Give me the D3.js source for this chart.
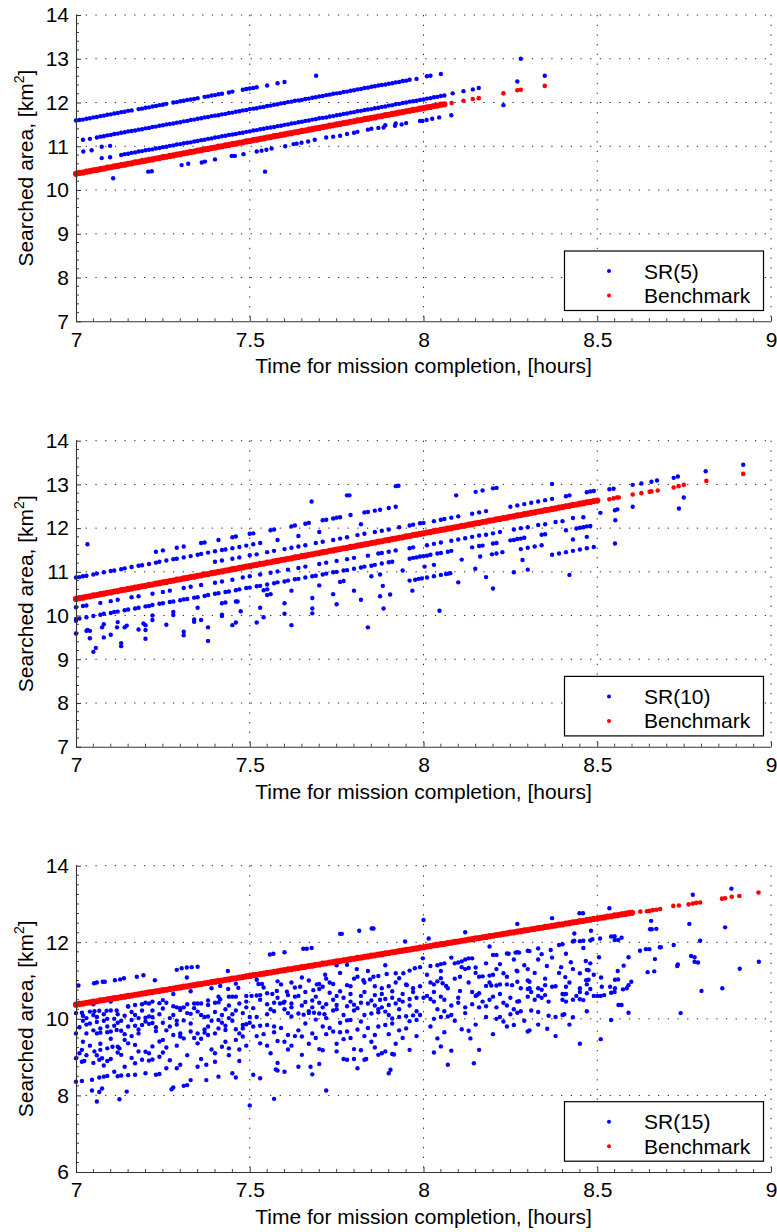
<!DOCTYPE html>
<html><head><meta charset="utf-8">
<script src="https://cdn.jsdelivr.net/npm/d3@7"></script>
<style>body{margin:0;background:#fff}</style>
</head><body>
<script>
// ---------------- DATA ----------------
const xTicks = [7, 7.5, 8, 8.5, 9];
const yTicksA = [7, 8, 9, 10, 11, 12, 13, 14];
const yTicksC = [6, 8, 10, 12, 14];
const legendLabels = ["SR(5)", "SR(10)", "SR(15)"];
const benchLabel = "Benchmark";
const xTitle = "Time for mission completion, [hours]";

// ----- Panel 1 : SR(5) -----
const sr5LineA = [[7.00,11.59],[7.01,11.60],[7.02,11.61],[7.03,11.63],[7.04,11.64],[7.05,11.66],[7.06,11.67],[7.07,11.69],[7.08,11.70],[7.09,11.72],[7.10,11.73],[7.11,11.75],[7.12,11.76],[7.13,11.78],[7.14,11.79],[7.15,11.81],[7.16,11.82],[7.18,11.85],[7.19,11.86],[7.20,11.88],[7.21,11.89],[7.22,11.91],[7.23,11.92],[7.24,11.94],[7.25,11.95],[7.26,11.97],[7.28,12.00],[7.29,12.01],[7.30,12.03],[7.31,12.04],[7.32,12.06],[7.33,12.07],[7.34,12.08],[7.35,12.10],[7.37,12.13],[7.38,12.14],[7.39,12.16],[7.40,12.17],[7.41,12.19],[7.42,12.20],[7.44,12.23],[7.45,12.25],[7.48,12.29],[7.49,12.31],[7.50,12.32],[7.51,12.33],[7.52,12.35],[7.55,12.39],[7.58,12.44],[7.60,12.47]];
const sr5LineB = [[7.02,11.15],[7.04,11.17],[7.06,11.20],[7.07,11.22],[7.08,11.23],[7.09,11.25],[7.10,11.26],[7.11,11.28],[7.12,11.29],[7.13,11.31],[7.14,11.32],[7.15,11.34],[7.16,11.35],[7.17,11.36],[7.18,11.38],[7.19,11.39],[7.20,11.41],[7.21,11.42],[7.22,11.44],[7.23,11.45],[7.24,11.47],[7.25,11.48],[7.26,11.50],[7.27,11.51],[7.28,11.52],[7.29,11.54],[7.30,11.55],[7.31,11.57],[7.32,11.58],[7.33,11.60],[7.34,11.61],[7.35,11.63],[7.36,11.64],[7.37,11.66],[7.38,11.67],[7.39,11.69],[7.40,11.70],[7.41,11.71],[7.42,11.73],[7.43,11.74],[7.44,11.76],[7.45,11.77],[7.46,11.79],[7.47,11.80],[7.48,11.82],[7.49,11.83],[7.50,11.85],[7.51,11.86],[7.52,11.87],[7.53,11.89],[7.54,11.90],[7.55,11.92],[7.56,11.93],[7.57,11.95],[7.58,11.96],[7.59,11.98],[7.60,11.99],[7.61,12.01],[7.62,12.02],[7.63,12.04],[7.64,12.05],[7.65,12.06],[7.66,12.08],[7.67,12.09],[7.68,12.11],[7.69,12.12],[7.70,12.14],[7.71,12.15],[7.72,12.17],[7.73,12.18],[7.74,12.20],[7.75,12.21],[7.76,12.22],[7.77,12.24],[7.78,12.25],[7.79,12.27],[7.80,12.28],[7.81,12.30],[7.82,12.31],[7.83,12.33],[7.84,12.34],[7.85,12.36],[7.86,12.37],[7.87,12.39],[7.88,12.40],[7.89,12.41],[7.90,12.43],[7.91,12.44],[7.92,12.46],[7.93,12.47],[7.94,12.49],[7.95,12.50],[7.96,12.52],[7.98,12.54],[8.01,12.60],[8.02,12.61],[8.05,12.65]];
const sr5LineC = [[7.13,10.80],[7.14,10.82],[7.15,10.83],[7.16,10.85],[7.17,10.86],[7.18,10.88],[7.19,10.89],[7.20,10.91],[7.21,10.92],[7.22,10.93],[7.23,10.95],[7.24,10.96],[7.25,10.98],[7.26,10.99],[7.27,11.01],[7.28,11.02],[7.29,11.04],[7.30,11.05],[7.31,11.07],[7.32,11.08],[7.33,11.09],[7.34,11.11],[7.35,11.12],[7.36,11.14],[7.37,11.15],[7.38,11.17],[7.39,11.18],[7.40,11.20],[7.41,11.21],[7.42,11.23],[7.43,11.24],[7.44,11.26],[7.45,11.27],[7.46,11.28],[7.47,11.30],[7.48,11.31],[7.49,11.33],[7.50,11.34],[7.51,11.36],[7.52,11.37],[7.53,11.39],[7.54,11.40],[7.55,11.42],[7.56,11.43],[7.57,11.44],[7.58,11.46],[7.59,11.47],[7.60,11.49],[7.61,11.50],[7.62,11.52],[7.63,11.53],[7.64,11.55],[7.65,11.56],[7.66,11.58],[7.67,11.59],[7.68,11.61],[7.69,11.62],[7.70,11.64],[7.71,11.65],[7.72,11.66],[7.73,11.68],[7.74,11.69],[7.75,11.71],[7.76,11.72],[7.77,11.74],[7.78,11.75],[7.79,11.77],[7.80,11.78],[7.81,11.80],[7.82,11.81],[7.83,11.83],[7.84,11.84],[7.85,11.85],[7.86,11.87],[7.87,11.88],[7.88,11.90],[7.89,11.91],[7.90,11.93],[7.91,11.94],[7.92,11.96],[7.93,11.97],[7.94,11.99],[7.95,12.00],[7.96,12.02],[7.97,12.03],[7.98,12.04],[7.99,12.06],[8.00,12.07],[8.01,12.09],[8.02,12.10],[8.03,12.12],[8.04,12.13],[8.05,12.15],[8.06,12.16],[8.084,12.21],[8.115,12.26],[8.142,12.30],[8.159,12.33]];
const sr5LineD = [[7.107,10.27],[7.208,10.42],[7.218,10.43],[7.304,10.57],[7.323,10.60],[7.362,10.63],[7.371,10.65],[7.40,10.70],[7.448,10.78],[7.457,10.78],[7.482,10.82],[7.52,10.88],[7.534,10.90],[7.548,10.92],[7.563,10.95],[7.602,11.00],[7.626,11.05],[7.635,11.06],[7.649,11.08],[7.668,11.11],[7.687,11.15],[7.72,11.20],[7.74,11.22],[7.76,11.24],[7.78,11.28],[7.80,11.31],[7.81,11.33],[7.84,11.38],[7.85,11.40],[7.87,11.42],[7.885,11.43],[7.89,11.48],[7.918,11.47],[7.92,11.52],[7.937,11.50],[7.95,11.53],[7.99,11.58],[7.997,11.58],[8.009,11.60],[8.025,11.63],[8.045,11.66],[8.08,11.71]];
const sr5Extra = [[7.021,10.88],[7.045,10.91],[7.074,10.99],[7.098,11.01],[7.074,10.73],[7.098,10.75],[7.544,10.42],[7.691,12.61],[8.23,11.94],[8.27,12.48],[8.28,13.00],[8.349,12.61]];
const bench5Dense = [[7.00,10.37],[7.01,10.39],[7.02,10.40],[7.03,10.42],[7.04,10.43],[7.05,10.45],[7.06,10.46],[7.07,10.48],[7.08,10.49],[7.09,10.51],[7.10,10.52],[7.11,10.54],[7.12,10.55],[7.13,10.57],[7.14,10.58],[7.15,10.60],[7.16,10.61],[7.17,10.63],[7.18,10.64],[7.19,10.66],[7.20,10.67],[7.21,10.69],[7.22,10.70],[7.23,10.72],[7.24,10.73],[7.25,10.75],[7.26,10.76],[7.27,10.78],[7.28,10.79],[7.29,10.81],[7.30,10.82],[7.31,10.84],[7.32,10.85],[7.33,10.87],[7.34,10.88],[7.35,10.90],[7.36,10.91],[7.37,10.93],[7.38,10.94],[7.39,10.96],[7.40,10.97],[7.41,10.99],[7.42,11.00],[7.43,11.02],[7.44,11.03],[7.45,11.05],[7.46,11.06],[7.47,11.08],[7.48,11.09],[7.49,11.11],[7.50,11.12],[7.51,11.14],[7.52,11.15],[7.53,11.17],[7.54,11.18],[7.55,11.20],[7.56,11.21],[7.57,11.23],[7.58,11.24],[7.59,11.26],[7.60,11.27],[7.61,11.29],[7.62,11.30],[7.63,11.32],[7.64,11.33],[7.65,11.35],[7.66,11.36],[7.67,11.38],[7.68,11.39],[7.69,11.41],[7.70,11.42],[7.71,11.44],[7.72,11.45],[7.73,11.47],[7.74,11.48],[7.75,11.50],[7.76,11.51],[7.77,11.53],[7.78,11.54],[7.79,11.56],[7.80,11.57],[7.81,11.59],[7.82,11.60],[7.83,11.62],[7.84,11.63],[7.85,11.65],[7.86,11.66],[7.87,11.68],[7.88,11.69],[7.89,11.71],[7.90,11.72],[7.91,11.74],[7.92,11.75],[7.93,11.77],[7.94,11.78],[7.95,11.80],[7.96,11.81],[7.97,11.83],[7.98,11.84],[7.99,11.86],[8.00,11.87],[8.01,11.89],[8.02,11.90],[8.03,11.92],[8.04,11.93],[8.05,11.95],[8.06,11.96]];
const bench5Tail = [[8.081,11.99],[8.115,12.04],[8.142,12.08],[8.159,12.10],[8.23,12.21],[8.27,12.28],[8.28,12.29],[8.349,12.38]];

// ----- Panel 2 : SR(10) -----
const sr10P1 = [[7.40,11.23],[7.42,11.26],[7.45,11.30],[7.47,11.33],[7.50,11.38],[7.52,11.40],[7.55,11.45],[7.57,11.48],[7.60,11.52],[7.62,11.55],[7.64,11.58],[7.66,11.61],[7.69,11.66],[7.71,11.69],[7.74,11.73],[7.76,11.76],[7.78,11.79],[7.81,11.84],[7.83,11.87],[7.86,11.91],[7.88,11.94],[7.90,11.97],[7.93,12.02],[7.96,12.06],[7.97,12.08],[7.99,12.11],[8.00,12.12],[8.03,12.16],[8.05,12.19],[8.06,12.21],[8.08,12.24],[8.10,12.27],[8.14,12.33],[8.16,12.36],[8.18,12.39],[8.25,12.49],[8.27,12.52],[8.29,12.55],[8.31,12.58],[8.33,12.61],[8.35,12.64],[8.37,12.67],[8.41,12.73],[8.42,12.75],[8.47,12.82],[8.48,12.84],[8.49,12.85],[8.535,12.89],[8.547,12.90],[8.602,12.99],[8.627,13.02],[8.656,13.06],[8.672,13.09],[8.72,13.15],[8.732,13.18],[8.812,13.30],[8.92,13.45]];
const sr10P2 = [[7.00,10.87],[7.01,10.88],[7.02,10.90],[7.03,10.91],[7.05,10.94],[7.06,10.96],[7.08,10.99],[7.10,11.02],[7.11,11.03],[7.13,11.06],[7.14,11.08],[7.16,11.11],[7.18,11.14],[7.19,11.15],[7.21,11.18],[7.23,11.21],[7.24,11.23],[7.26,11.26],[7.28,11.29],[7.29,11.30],[7.31,11.33],[7.33,11.36],[7.35,11.39],[7.36,11.41],[7.38,11.44],[7.40,11.47],[7.42,11.50],[7.43,11.51],[7.45,11.54],[7.47,11.57],[7.49,11.60],[7.51,11.63],[7.53,11.66],[7.58,11.73],[7.64,11.82],[7.70,11.91],[7.82,12.09]];
const sr10P3 = [[7.23,11.46],[7.25,11.49],[7.29,11.55],[7.31,11.58],[7.36,11.66],[7.37,11.67],[7.41,11.73],[7.45,11.79],[7.46,11.81],[7.50,11.87],[7.51,11.88],[7.56,11.95],[7.57,11.97],[7.62,12.04],[7.63,12.06],[7.66,12.10],[7.67,12.12],[7.71,12.18],[7.72,12.19],[7.74,12.22],[7.75,12.24],[7.76,12.25],[7.79,12.30],[7.83,12.36],[7.84,12.37],[7.86,12.40],[7.875,12.42],[7.90,12.46],[7.92,12.49],[8.094,12.75],[8.15,12.83],[8.17,12.86],[8.20,12.91],[8.21,12.92]];
const sr10Top = [[7.033,11.63],[7.678,12.61],[7.78,12.75],[7.787,12.75],[7.92,12.96],[7.928,12.97],[8.37,13.01]];
const sr10La = [[7.00,10.19],[7.02,10.22],[7.03,10.23],[7.07,10.29],[7.10,10.33],[7.12,10.36],[7.16,10.42],[7.18,10.44],[7.22,10.50],[7.25,10.54],[7.27,10.57],[7.31,10.63],[7.33,10.66],[7.36,10.70],[7.40,10.75],[7.42,10.78],[7.45,10.82],[7.48,10.87],[7.50,10.90],[7.53,10.94],[7.56,10.98],[7.58,11.01],[7.61,11.05],[7.64,11.09],[7.66,11.12],[7.70,11.18],[7.72,11.21],[7.75,11.25],[7.78,11.29],[7.80,11.32],[7.84,11.37],[7.87,11.42],[7.88,11.43],[7.90,11.46],[7.92,11.49],[7.96,11.54],[7.97,11.56],[8.01,11.61],[8.03,11.64],[8.05,11.67],[8.08,11.71],[8.10,11.74],[8.12,11.77],[8.14,11.80],[8.16,11.83],[8.18,11.85],[8.20,11.88],[8.22,11.91],[8.26,11.97],[8.28,12.00],[8.30,12.02],[8.33,12.07],[8.35,12.09],[8.38,12.14],[8.40,12.16],[8.43,12.23],[8.46,12.25],[8.509,12.35],[8.551,12.41],[8.558,12.43],[8.602,12.49],[8.749,12.70]];
const sr10Lb = [[7.00,9.92],[7.01,9.93],[7.03,9.96],[7.05,9.99],[7.07,10.02],[7.08,10.04],[7.10,10.06],[7.11,10.08],[7.12,10.09],[7.14,10.12],[7.15,10.14],[7.17,10.16],[7.18,10.18],[7.20,10.21],[7.21,10.22],[7.22,10.24],[7.24,10.27],[7.25,10.28],[7.27,10.31],[7.28,10.32],[7.30,10.35],[7.31,10.37],[7.32,10.38],[7.34,10.41],[7.35,10.42],[7.37,10.45],[7.38,10.47],[7.40,10.50],[7.41,10.51],[7.43,10.54],[7.44,10.55],[7.46,10.58],[7.47,10.60],[7.49,10.63],[7.50,10.64],[7.52,10.67],[7.53,10.68],[7.55,10.71],[7.57,10.74],[7.58,10.76],[7.60,10.78],[7.61,10.80],[7.63,10.83],[7.64,10.84],[7.66,10.87],[7.68,10.90],[7.69,10.91],[7.71,10.94],[7.72,10.96],[7.74,10.99],[7.75,11.00],[7.77,11.03],[7.78,11.04],[7.80,11.07],[7.82,11.10],[7.83,11.12],[7.85,11.14],[7.86,11.16],[7.88,11.19],[7.90,11.22],[7.91,11.23],[7.96,11.30],[7.97,11.32],[7.98,11.33],[7.99,11.35],[8.00,11.36],[8.01,11.37],[8.02,11.39],[8.04,11.42],[8.05,11.43],[8.07,11.46],[8.08,11.48],[8.14,11.56],[8.16,11.59],[8.17,11.60],[8.20,11.65],[8.21,11.66],[8.25,11.72],[8.26,11.73],[8.27,11.75],[8.28,11.76],[8.29,11.78],[8.34,11.85],[8.35,11.86],[8.41,11.95],[8.44,11.99],[8.45,12.01],[8.46,12.02],[8.47,12.04],[8.48,12.05],[8.552,12.18],[8.735,12.45]];
const sr10Lc = [[7.08,9.80],[7.12,9.85],[7.22,10.00],[7.28,10.08],[7.35,10.18],[7.42,10.28],[7.43,10.30],[7.55,10.47],[7.56,10.49],[7.62,10.57],[7.70,10.69],[7.76,10.77],[7.77,10.79],[7.85,10.90],[7.875,10.94],[7.94,11.03],[8.003,11.12],[8.03,11.16],[8.11,11.28],[8.163,11.35],[8.197,11.40],[8.21,11.42],[8.227,11.45],[8.28,11.52],[8.30,11.55],[8.32,11.58],[8.34,11.61],[8.43,11.74],[8.47,11.80]];
const sr10Ld = [[7.04,9.48],[7.10,9.56],[7.18,9.68],[7.26,9.79],[7.34,9.91],[7.42,10.02],[7.474,10.10],[7.53,10.18],[7.60,10.28],[7.68,10.40],[7.74,10.49],[7.80,10.57],[7.883,10.68],[7.96,10.80],[7.976,10.82],[7.986,10.84],[7.995,10.85],[8.01,10.87],[8.03,10.90],[8.05,10.93],[8.065,10.95],[8.072,10.96],[8.077,10.97],[8.149,11.07],[8.285,11.27],[8.37,11.39],[8.39,11.42],[8.41,11.45],[8.43,11.48],[8.45,11.51],[8.47,11.54],[8.49,11.57],[8.551,11.65]];
const sr10Le = [[7.057,9.26],[7.13,9.37],[7.20,9.47],[7.31,9.63],[7.38,9.73],[7.46,9.84],[7.54,9.96],[7.60,10.04],[7.68,10.16],[7.75,10.26],[7.82,10.36],[7.875,10.44],[7.904,10.48],[7.968,10.57],[8.10,10.76],[8.18,10.88],[8.26,10.99],[8.30,11.05]];
const sr10Low = [[7.62,9.78],[7.885,10.16],[8.20,10.62],[8.42,10.93],[8.046,10.11],[7.00,9.59],[7.00,9.88],[7.03,9.65],[7.04,9.65],[7.05,9.17],[7.075,9.73],[7.08,9.50],[7.118,9.73],[7.14,9.73],[7.13,9.30],[7.20,9.78],[7.20,9.67],[7.22,9.90],[7.31,9.55],[7.36,9.90],[7.38,9.42],[7.45,9.78],[7.52,9.84],[7.84,9.73],[7.033,9.67],[7.146,9.77],[7.194,9.82],[7.28,10.01],[7.34,9.86],[7.42,9.99],[7.46,10.32],[7.465,10.32],[7.54,10.58],[7.55,10.60],[7.68,10.05]];
const bench10Dense = [[7.00,10.38],[7.01,10.40],[7.02,10.41],[7.03,10.43],[7.04,10.44],[7.05,10.46],[7.06,10.47],[7.07,10.49],[7.08,10.50],[7.09,10.52],[7.10,10.53],[7.11,10.55],[7.12,10.56],[7.13,10.58],[7.14,10.59],[7.15,10.61],[7.16,10.62],[7.17,10.64],[7.18,10.65],[7.19,10.67],[7.20,10.68],[7.21,10.70],[7.22,10.71],[7.23,10.73],[7.24,10.74],[7.25,10.76],[7.26,10.77],[7.27,10.79],[7.28,10.80],[7.29,10.82],[7.30,10.83],[7.31,10.85],[7.32,10.86],[7.33,10.88],[7.34,10.89],[7.35,10.91],[7.36,10.92],[7.37,10.94],[7.38,10.95],[7.39,10.97],[7.40,10.98],[7.41,11.00],[7.42,11.01],[7.43,11.03],[7.44,11.04],[7.45,11.06],[7.46,11.07],[7.47,11.09],[7.48,11.10],[7.49,11.12],[7.50,11.13],[7.51,11.15],[7.52,11.16],[7.53,11.18],[7.54,11.19],[7.55,11.21],[7.56,11.22],[7.57,11.24],[7.58,11.25],[7.59,11.27],[7.60,11.28],[7.61,11.30],[7.62,11.31],[7.63,11.33],[7.64,11.34],[7.65,11.36],[7.66,11.37],[7.67,11.39],[7.68,11.40],[7.69,11.42],[7.70,11.43],[7.71,11.45],[7.72,11.46],[7.73,11.48],[7.74,11.49],[7.75,11.51],[7.76,11.52],[7.77,11.54],[7.78,11.55],[7.79,11.57],[7.80,11.58],[7.81,11.60],[7.82,11.61],[7.83,11.63],[7.84,11.64],[7.85,11.66],[7.86,11.67],[7.87,11.69],[7.88,11.70],[7.89,11.72],[7.90,11.73],[7.91,11.75],[7.92,11.76],[7.93,11.78],[7.94,11.79],[7.95,11.81],[7.96,11.82],[7.97,11.84],[7.98,11.85],[7.99,11.87],[8.00,11.88],[8.01,11.90],[8.02,11.91],[8.03,11.93],[8.04,11.94],[8.05,11.96],[8.06,11.97],[8.07,11.99],[8.08,12.00],[8.09,12.02],[8.10,12.03],[8.11,12.05],[8.12,12.06],[8.13,12.08],[8.14,12.09],[8.15,12.11],[8.16,12.12],[8.17,12.14],[8.18,12.15],[8.19,12.17],[8.20,12.18],[8.21,12.20],[8.22,12.21],[8.23,12.23],[8.24,12.24],[8.25,12.26],[8.26,12.27],[8.27,12.29],[8.28,12.30],[8.29,12.32],[8.30,12.33],[8.31,12.35],[8.32,12.36],[8.33,12.38],[8.34,12.39],[8.35,12.41],[8.36,12.42],[8.37,12.44],[8.38,12.45],[8.39,12.47],[8.40,12.48],[8.41,12.50],[8.42,12.51],[8.43,12.53],[8.44,12.54],[8.45,12.56],[8.46,12.57],[8.47,12.59],[8.48,12.60],[8.49,12.62],[8.50,12.63]];
const bench10Tail = [[8.535,12.66],[8.547,12.68],[8.557,12.70],[8.562,12.70],[8.602,12.77],[8.627,12.80],[8.651,12.83],[8.656,12.84],[8.674,12.86],[8.72,12.93],[8.734,12.96],[8.749,12.99],[8.814,13.08],[8.92,13.24]];

// ----- Panel 3 : SR(15) -----
const sr15A = [[7.007,10.87],[7.052,10.93],[7.06,10.95],[7.077,10.97],[7.083,10.97],[7.112,11.01],[7.127,11.03],[7.138,11.06],[7.175,11.10],[7.194,11.14],[7.227,11.01],[7.29,11.28],[7.304,11.32],[7.319,11.34],[7.333,11.35],[7.35,11.36],[7.319,11.08],[7.437,11.25],[7.415,10.86],[7.438,10.78],[7.467,10.81],[7.00,10.15],[7.017,10.16],[7.04,10.19],[7.053,10.20],[7.067,10.21],[7.088,10.21],[7.10,10.22],[7.117,10.22],[7.15,10.33],[7.17,10.36],[7.19,10.38],[7.21,10.40],[7.24,10.41],[7.26,10.42],[7.15,10.32],[7.20,10.42],[7.22,10.45],[7.25,10.49],[7.29,10.30],[7.30,10.28],[7.34,10.40],[7.35,10.40],[7.36,10.40],[7.38,10.36],[7.40,10.42],[7.41,10.43],[7.415,10.51],[7.44,10.58],[7.45,10.58],[7.46,10.58],[7.47,10.40],[7.49,10.60],[7.05,10.38],[7.10,10.45],[7.28,10.65],[7.33,10.72],[7.39,10.80],[7.46,10.92],[7.16,9.97],[7.18,10.02],[7.20,10.03],[7.21,10.06],[7.22,10.04],[7.28,10.10],[7.30,10.23],[7.32,10.15],[7.33,10.13],[7.35,10.19],[7.38,10.06],[7.41,9.97],[7.44,10.02],[7.48,9.84],[7.49,9.86],[7.50,9.90],[7.00,9.62],[7.03,9.62],[7.06,9.62],[7.07,9.64],[7.09,9.65],[7.10,9.67],[7.117,9.71],[7.13,9.69],[7.07,9.75],[7.09,9.80],[7.15,9.80],[7.17,9.82],[7.19,9.84],[7.21,9.87],[7.22,9.89],[7.25,9.90],[7.28,9.58],[7.30,9.62],[7.33,9.67],[7.35,9.62],[7.37,9.64],[7.38,9.80],[7.41,9.75],[7.43,9.71],[7.46,9.73],[7.48,9.75],[7.017,9.19],[7.053,9.15],[7.07,9.19],[7.09,9.23],[7.105,9.27],[7.12,9.27],[7.125,9.23],[7.15,9.36],[7.17,9.32],[7.20,9.14],[7.21,9.10],[7.24,9.41],[7.25,9.45],[7.30,9.54],[7.31,9.49],[7.35,9.36],[7.38,9.58],[7.40,9.62],[7.42,9.27],[7.44,9.23],[7.46,9.45],[7.48,9.54],[7.00,8.97],[7.017,8.88],[7.024,8.90],[7.067,8.93],[7.075,8.97],[7.09,8.90],[7.13,9.06],[7.17,8.84],[7.19,8.93],[7.21,8.91],[7.22,8.94],[7.24,9.01],[7.26,8.71],[7.29,8.71],[7.30,8.80],[7.35,8.75],[7.375,8.80],[7.40,8.88],[7.45,8.58],[7.46,8.47],[7.00,8.36],[7.017,8.38],[7.046,8.41],[7.067,8.47],[7.08,8.49],[7.09,8.51],[7.12,8.50],[7.13,8.52],[7.15,8.53],[7.17,8.54],[7.20,8.58],[7.23,8.54],[7.24,8.56],[7.046,8.13],[7.067,8.09],[7.075,8.18],[7.06,7.84],[7.125,7.90],[7.146,8.10],[7.275,8.16],[7.28,8.21],[7.31,8.25],[7.32,8.27],[7.33,8.40],[7.375,8.40],[7.41,8.49],[7.01,9.78],[7.02,9.95],[7.03,10.02],[7.04,9.88],[7.05,9.70],[7.06,10.05],[7.08,9.95],[7.11,10.00],[7.12,9.90],[7.14,10.08],[7.02,9.40],[7.04,9.30],[7.06,9.05],[7.08,8.78],[7.10,9.48],[7.01,9.10],[7.11,8.62],[7.14,8.75],[7.16,9.55],[7.18,9.62],[7.23,9.68],[7.26,9.25],[7.27,9.80],[7.29,9.95],[7.31,10.30],[7.36,9.48],[7.37,10.05],[7.39,9.20],[7.42,9.90],[7.43,10.25],[7.45,10.12],[7.47,9.20],[7.49,10.30],[7.44,9.05]];
const sr15A2 = [[7.02,10.08],[7.03,9.85],[7.05,10.10],[7.06,9.92],[7.08,10.12],[7.09,10.00],[7.11,9.82],[7.12,10.12],[7.13,9.95],[7.14,9.60],[7.16,10.18],[7.17,10.10],[7.18,9.72],[7.19,10.22],[7.20,9.93],[7.22,10.22],[7.23,9.78],[7.24,10.12],[7.25,10.27],[7.26,9.70],[7.27,10.02],[7.28,10.33],[7.29,9.85],[7.31,9.96],[7.32,10.38],[7.33,9.88],[7.34,10.28],[7.36,10.10],[7.37,9.72],[7.38,10.48],[7.39,9.95],[7.40,10.18],[7.41,10.58],[7.42,10.10],[7.43,9.82],[7.44,10.35],[7.45,9.95],[7.46,10.22],[7.47,9.62],[7.48,10.15],[7.49,10.45],[7.50,10.05],[7.03,9.05],[7.05,8.85],[7.07,9.35],[7.10,8.95],[7.12,9.12],[7.14,9.45],[7.16,8.98],[7.18,9.15],[7.22,9.28],[7.25,9.12],[7.27,8.92],[7.29,9.30],[7.32,9.05],[7.34,9.50],[7.36,8.95],[7.40,9.10],[7.43,9.40],[7.47,8.90],[7.49,9.30]];
const sr15B = [[7.558,11.68],[7.568,11.70],[7.60,11.74],[7.654,11.83],[7.664,11.83],[7.678,11.85],[7.76,12.22],[7.765,12.22],[7.815,12.30],[7.851,12.36],[7.856,12.36],[7.808,11.30],[7.78,11.41],[7.75,11.40],[7.65,11.08],[7.717,11.15],[7.693,10.90],[7.70,10.91],[7.683,10.75],[7.645,10.84],[7.607,10.71],[7.578,10.73],[7.525,10.91],[7.535,10.91],[7.856,11.10],[7.87,11.12],[7.894,11.17],[7.92,11.19],[7.827,11.01],[7.846,11.03],[7.80,11.05],[7.81,11.10],[7.78,10.88],[7.74,10.91],[7.71,10.84],[7.947,12.02],[7.942,11.19],[7.96,11.26],[7.975,11.32],[7.99,11.35],[7.93,11.06],[7.952,10.88],[7.97,10.80],[7.90,10.85],[7.88,10.80],[7.505,10.60],[7.52,10.61],[7.53,10.62],[7.55,10.67],[7.565,10.65],[7.587,10.40],[7.597,10.42],[7.63,10.58],[7.64,10.60],[7.55,10.38],[7.57,10.42],[7.60,10.45],[7.62,10.40],[7.66,10.44],[7.68,10.48],[7.70,10.42],[7.72,10.38],[7.75,10.36],[7.78,10.33],[7.80,10.37],[7.82,10.42],[7.84,10.40],[7.86,10.35],[7.88,10.30],[7.90,10.36],[7.92,10.40],[7.94,10.45],[7.96,10.52],[7.98,10.55],[7.875,10.50],[7.89,10.52],[7.91,10.55],[7.93,10.50],[7.75,10.60],[7.77,10.55],[7.73,10.68],[7.64,10.14],[7.655,10.11],[7.67,10.15],[7.685,10.16],[7.70,10.14],[7.715,10.12],[7.78,9.96],[7.79,9.97],[7.83,10.10],[7.85,10.14],[7.87,10.17],[7.89,10.19],[7.91,10.01],[7.93,10.05],[7.95,10.07],[7.97,10.09],[7.99,10.10],[7.52,10.05],[7.55,10.12],[7.57,10.20],[7.60,10.25],[7.62,10.06],[7.75,10.25],[7.80,10.22],[7.51,9.80],[7.53,9.82],[7.55,9.84],[7.57,9.80],[7.59,9.76],[7.61,9.58],[7.63,9.55],[7.65,9.54],[7.68,9.62],[7.71,9.80],[7.73,9.76],[7.74,9.67],[7.76,9.65],[7.78,9.67],[7.81,9.72],[7.84,9.76],[7.87,9.80],[7.89,9.84],[7.91,9.88],[7.96,9.94],[7.98,9.97],[7.53,9.36],[7.58,9.42],[7.60,9.40],[7.65,9.06],[7.70,9.21],[7.71,9.18],[7.77,9.47],[7.80,9.21],[7.82,9.18],[7.87,9.06],[7.88,9.10],[7.89,9.15],[7.91,9.08],[7.915,9.07],[7.96,9.19],[7.51,8.54],[7.53,8.45],[7.575,8.68],[7.58,8.65],[7.60,8.62],[7.64,8.75],[7.675,8.75],[7.70,8.82],[7.77,8.95],[7.78,8.93],[7.80,8.95],[7.81,8.71],[7.83,8.93],[7.835,8.95],[7.90,8.58],[7.905,8.67],[7.50,7.74],[7.57,7.91],[7.72,8.13],[7.52,11.02],[7.58,10.98],[7.62,10.95],[7.67,11.00],[7.72,11.05],[7.76,11.20],[7.84,11.25],[7.89,11.40],[7.62,10.30],[7.68,10.30],[7.74,10.50],[7.79,10.65],[7.83,10.70],[7.86,10.62],[7.66,9.88],[7.69,9.98],[7.72,10.02],[7.76,9.90],[7.82,9.93],[7.86,9.58],[7.93,9.70],[7.54,9.60],[7.56,9.10],[7.62,9.30],[7.75,9.35],[7.85,9.40],[7.94,9.50],[7.58,8.85],[7.68,8.55]];
const sr15B2 = [[7.51,10.28],[7.53,10.50],[7.54,10.82],[7.56,10.25],[7.58,10.55],[7.59,10.90],[7.61,10.15],[7.61,10.62],[7.63,10.82],[7.65,10.35],[7.66,10.70],[7.67,10.20],[7.69,10.58],[7.70,10.78],[7.71,10.30],[7.73,10.95],[7.74,10.22],[7.76,10.72],[7.77,10.10],[7.79,10.45],[7.79,10.85],[7.81,10.28],[7.82,10.60],[7.83,10.95],[7.85,10.48],[7.86,10.85],[7.87,10.25],[7.88,10.65],[7.90,10.10],[7.91,10.72],[7.92,10.95],[7.93,10.25],[7.94,10.65],[7.95,10.90],[7.96,10.35],[7.97,10.70],[7.98,10.20],[7.99,10.85],[7.52,9.55],[7.55,9.30],[7.57,9.65],[7.61,9.20],[7.64,9.70],[7.67,9.35],[7.69,9.50],[7.72,9.60],[7.75,9.15],[7.79,9.50],[7.83,9.55],[7.86,9.25],[7.90,9.60],[7.92,9.35],[7.95,9.75],[7.98,9.55]];
const sr15C = [[8.00,12.58],[8.015,12.10],[8.12,12.26],[8.27,12.48],[8.37,12.63],[8.449,12.76],[8.459,12.76],[8.19,11.89],[8.20,11.67],[8.21,11.67],[8.24,11.71],[8.245,11.70],[8.265,11.73],[8.27,11.74],[8.275,11.73],[8.30,11.78],[8.305,11.77],[8.33,11.84],[8.34,11.69],[8.366,11.80],[8.39,11.93],[8.40,11.95],[8.43,12.02],[8.45,12.03],[8.46,12.04],[8.48,12.05],[8.486,12.08],[8.434,12.23],[8.482,12.30],[8.434,12.04],[8.09,11.45],[8.10,11.47],[8.11,11.50],[8.12,11.55],[8.13,11.58],[8.14,11.58],[7.998,11.58],[8.02,11.38],[8.04,11.40],[8.05,11.43],[8.06,11.45],[8.15,11.34],[8.13,11.33],[8.12,11.30],[8.22,11.43],[8.355,11.38],[8.396,11.35],[8.424,11.48],[8.467,11.51],[8.47,11.28],[8.475,11.27],[8.45,11.19],[8.23,11.19],[8.27,11.24],[8.268,11.26],[8.30,11.30],[8.105,11.10],[8.16,11.10],[8.17,11.11],[8.19,11.13],[8.20,11.15],[8.408,11.09],[8.468,11.01],[8.475,11.02],[8.02,10.95],[8.03,10.90],[8.04,10.98],[8.05,11.06],[8.055,10.93],[8.065,10.86],[8.18,10.86],[8.195,10.87],[8.21,10.87],[8.22,10.90],[8.24,10.90],[8.255,10.88],[8.27,10.97],[8.30,11.00],[8.305,10.97],[8.30,10.78],[8.305,10.80],[8.33,10.80],[8.34,10.76],[8.35,10.88],[8.37,10.84],[8.41,10.84],[8.40,10.65],[8.405,10.64],[8.41,10.65],[8.45,10.80],[8.48,10.78],[8.45,10.70],[8.47,10.67],[8.49,10.60],[8.50,10.60],[8.06,10.50],[8.05,10.58],[8.105,10.73],[8.15,10.60],[8.155,10.63],[8.16,10.67],[8.19,10.50],[8.20,10.58],[8.27,10.45],[8.275,10.46],[8.30,10.58],[8.32,10.50],[8.33,10.60],[8.34,10.55],[8.35,10.62],[8.40,10.50],[8.41,10.45],[8.43,10.50],[8.45,10.51],[8.46,10.49],[8.00,10.55],[8.01,10.60],[8.02,10.52],[8.03,10.45],[8.08,10.35],[8.10,10.42],[8.12,10.30],[8.14,10.38],[8.16,10.30],[8.18,10.33],[8.21,10.30],[8.24,10.35],[8.26,10.25],[8.23,10.42],[8.04,10.25],[8.06,10.20],[8.08,10.10],[8.04,9.49],[8.11,9.73],[8.13,9.69],[8.135,9.49],[8.21,10.00],[8.22,10.05],[8.23,9.93],[8.25,10.12],[8.26,9.84],[8.27,10.16],[8.28,10.20],[8.30,9.67],[8.305,9.70],[8.31,10.22],[8.33,10.18],[8.356,9.74],[8.36,10.08],[8.38,10.05],[8.40,10.10],[8.405,10.12],[8.43,10.04],[8.03,10.00],[8.05,10.05],[8.07,10.06],[8.03,9.12],[8.05,9.28],[8.08,9.17],[8.16,9.19],[8.45,9.35],[8.07,8.80],[8.145,8.84]];
const sr15C2 = [[8.01,11.15],[8.03,10.70],[8.05,11.25],[8.07,10.80],[8.08,11.60],[8.09,11.05],[8.10,10.55],[8.11,11.35],[8.13,10.95],[8.14,10.70],[8.15,11.20],[8.17,10.45],[8.18,11.45],[8.19,10.95],[8.21,11.30],[8.22,10.65],[8.24,11.10],[8.25,10.55],[8.26,11.55],[8.28,10.80],[8.29,11.40],[8.31,10.70],[8.32,11.20],[8.33,11.55],[8.35,11.05],[8.36,10.45],[8.37,11.60],[8.38,10.85],[8.39,11.20],[8.41,11.70],[8.42,10.95],[8.43,11.30],[8.44,10.60],[8.46,11.85],[8.47,10.90],[8.48,11.45],[8.49,11.15],[8.02,9.80],[8.06,9.65],[8.09,9.95],[8.12,10.15],[8.15,9.85],[8.18,10.05],[8.20,9.60],[8.24,9.80],[8.29,9.95],[8.33,9.85],[8.38,9.55],[8.42,9.85],[8.47,10.20]];
const sr15D = [[8.51,9.47],[8.54,9.97],[8.57,10.36],[8.59,10.16],[8.74,10.15],[8.535,12.89],[8.775,13.24],[8.886,13.40],[8.868,12.39],[8.765,12.48],[8.652,12.34],[8.657,12.34],[8.67,12.35],[8.655,12.56],[8.796,12.04],[8.54,12.15],[8.55,12.16],[8.57,12.12],[8.55,12.06],[8.56,12.06],[8.508,12.10],[8.68,11.87],[8.683,11.87],[8.72,11.93],[8.623,11.78],[8.64,11.82],[8.65,11.82],[8.666,11.56],[8.645,11.22],[8.664,11.24],[8.77,11.64],[8.78,11.61],[8.78,11.49],[8.79,11.47],[8.73,11.38],[8.732,11.42],[8.80,10.73],[8.86,10.80],[8.91,11.31],[8.965,11.49],[8.59,11.61],[8.576,11.39],[8.559,11.25],[8.561,10.36],[8.598,10.97],[8.59,10.88],[8.585,10.80],[8.574,10.77],[8.551,10.80],[8.537,10.84],[8.513,10.84],[8.505,11.61],[8.511,11.08],[8.551,11.02],[8.56,11.03],[8.54,10.68],[8.55,10.70],[8.51,10.60],[8.52,10.62]];
const bench15Dense = [[7.00,10.37],[7.01,10.39],[7.02,10.40],[7.03,10.42],[7.04,10.43],[7.05,10.45],[7.06,10.46],[7.07,10.48],[7.08,10.49],[7.09,10.51],[7.10,10.52],[7.11,10.54],[7.12,10.55],[7.13,10.57],[7.14,10.58],[7.15,10.60],[7.16,10.61],[7.17,10.63],[7.18,10.64],[7.19,10.66],[7.20,10.67],[7.21,10.69],[7.22,10.70],[7.23,10.72],[7.24,10.73],[7.25,10.75],[7.26,10.76],[7.27,10.78],[7.28,10.79],[7.29,10.81],[7.30,10.82],[7.31,10.84],[7.32,10.85],[7.33,10.87],[7.34,10.88],[7.35,10.90],[7.36,10.91],[7.37,10.93],[7.38,10.94],[7.39,10.96],[7.40,10.97],[7.41,10.99],[7.42,11.00],[7.43,11.02],[7.44,11.03],[7.45,11.05],[7.46,11.06],[7.47,11.08],[7.48,11.09],[7.49,11.11],[7.50,11.12],[7.51,11.14],[7.52,11.15],[7.53,11.17],[7.54,11.18],[7.55,11.20],[7.56,11.21],[7.57,11.23],[7.58,11.24],[7.59,11.26],[7.60,11.27],[7.61,11.29],[7.62,11.30],[7.63,11.32],[7.64,11.33],[7.65,11.35],[7.66,11.36],[7.67,11.38],[7.68,11.39],[7.69,11.41],[7.70,11.42],[7.71,11.44],[7.72,11.45],[7.73,11.47],[7.74,11.48],[7.75,11.50],[7.76,11.51],[7.77,11.53],[7.78,11.54],[7.79,11.56],[7.80,11.57],[7.81,11.59],[7.82,11.60],[7.83,11.62],[7.84,11.63],[7.85,11.65],[7.86,11.66],[7.87,11.68],[7.88,11.69],[7.89,11.71],[7.90,11.72],[7.91,11.74],[7.92,11.75],[7.93,11.77],[7.94,11.78],[7.95,11.80],[7.96,11.81],[7.97,11.83],[7.98,11.84],[7.99,11.86],[8.00,11.87],[8.01,11.89],[8.02,11.90],[8.03,11.92],[8.04,11.93],[8.05,11.95],[8.06,11.96],[8.07,11.98],[8.08,11.99],[8.09,12.01],[8.10,12.02],[8.11,12.04],[8.12,12.05],[8.13,12.07],[8.14,12.08],[8.15,12.10],[8.16,12.11],[8.17,12.13],[8.18,12.14],[8.19,12.16],[8.20,12.17],[8.21,12.19],[8.22,12.20],[8.23,12.22],[8.24,12.23],[8.25,12.25],[8.26,12.26],[8.27,12.28],[8.28,12.29],[8.29,12.31],[8.30,12.32],[8.31,12.34],[8.32,12.35],[8.33,12.37],[8.34,12.38],[8.35,12.40],[8.36,12.41],[8.37,12.43],[8.38,12.44],[8.39,12.46],[8.40,12.47],[8.41,12.49],[8.42,12.50],[8.43,12.52],[8.44,12.53],[8.45,12.55],[8.46,12.56],[8.47,12.58],[8.48,12.59],[8.49,12.61],[8.50,12.62],[8.51,12.64],[8.52,12.65],[8.53,12.67],[8.54,12.68],[8.55,12.70],[8.56,12.71],[8.57,12.73],[8.58,12.74],[8.59,12.76],[8.60,12.77]];
const bench15Tail = [[8.624,12.80],[8.643,12.81],[8.65,12.82],[8.66,12.84],[8.67,12.85],[8.681,12.87],[8.719,12.95],[8.735,12.96],[8.763,12.99],[8.775,13.01],[8.785,13.03],[8.796,13.04],[8.859,13.14],[8.868,13.15],[8.887,13.19],[8.909,13.21],[8.964,13.30]];

// ---------------- DRAWING ----------------
const FONT = '"Liberation Sans", Arial, Helvetica, sans-serif';
const svg = d3.select('body').append('svg').attr('width', 777).attr('height', 1232)
  .style('font-family', FONT);
const x = d3.scaleLinear().domain([7, 9]).range([76, 771]);

const panels = [
  {top: 15, bottom: 321.3, yDomain: [7, 14], yTicks: yTicksA, minor: 0.2, label: legendLabels[0],
   blue: [].concat(sr5LineA, sr5LineB, sr5LineC, sr5LineD, sr5Extra), redDense: bench5Dense, redTail: bench5Tail},
  {top: 440.7, bottom: 746.7, yDomain: [7, 14], yTicks: yTicksA, minor: 0.2, label: legendLabels[1],
   blue: [].concat(sr10P1, sr10P2, sr10P3, sr10Top, sr10La, sr10Lb, sr10Lc, sr10Ld, sr10Le, sr10Low), redDense: bench10Dense, redTail: bench10Tail},
  {top: 865.7, bottom: 1172, yDomain: [6, 14], yTicks: yTicksC, minor: 0.25, label: legendLabels[2],
   blue: [].concat(sr15A, sr15A2, sr15B, sr15B2, sr15C, sr15C2, sr15D), redDense: bench15Dense, redTail: bench15Tail}
];

panels.forEach(p => {
  const y = d3.scaleLinear().domain(p.yDomain).range([p.bottom, p.top]);
  const g = svg.append('g');

  // dotted grid
  const grid = g.append('g').attr('stroke', '#000').attr('stroke-width', 1)
    .attr('stroke-dasharray', '1.3,8.4').attr('opacity', 0.85);
  grid.selectAll('.gy').data(p.yTicks.filter(v => v > p.yDomain[0])).join('line')
    .attr('x1', x(7)).attr('x2', x(9)).attr('y1', d => y(d)).attr('y2', d => y(d));
  grid.selectAll('.gx').data(xTicks.filter(v => v > 7)).join('line')
    .attr('x1', d => x(d)).attr('x2', d => x(d)).attr('y1', p.top).attr('y2', p.bottom);

  // minor ticks
  const minorY = d3.range(p.yDomain[0], p.yDomain[1] + 1e-9, p.minor)
    .filter(v => !p.yTicks.some(t => Math.abs(t - v) < 1e-6));
  g.append('g').selectAll('line').data(minorY).join('line')
    .attr('x1', x(7)).attr('x2', x(7) + 3).attr('y1', d => y(d)).attr('y2', d => y(d))
    .attr('stroke', '#444').attr('stroke-width', 1);
  const minorX = d3.range(7, 9.0001, 0.05).filter(v => !xTicks.some(t => Math.abs(t - v) < 1e-6));
  g.append('g').selectAll('line').data(minorX).join('line')
    .attr('x1', d => x(d)).attr('x2', d => x(d)).attr('y1', p.bottom).attr('y2', p.bottom - 3)
    .attr('stroke', '#444').attr('stroke-width', 1);

  // SR points (blue)
  g.append('g').selectAll('circle').data(p.blue).join('circle')
    .attr('cx', d => x(d[0])).attr('cy', d => y(d[1])).attr('r', 2.2).attr('fill', '#0000ff');
  // Benchmark points (red)
  g.append('g').selectAll('circle').data(p.redDense).join('circle')
    .attr('cx', d => x(d[0])).attr('cy', d => y(d[1])).attr('r', 3.1).attr('fill', '#ff0000');
  g.append('g').selectAll('circle').data(p.redTail).join('circle')
    .attr('cx', d => x(d[0])).attr('cy', d => y(d[1])).attr('r', 2.3).attr('fill', '#ff0000');

  // axes
  const ax = g.append('g').attr('transform', `translate(0,${p.bottom})`)
    .call(d3.axisBottom(x).tickValues(xTicks).tickFormat(d => String(d))
      .tickSizeInner(-5).tickSizeOuter(0).tickPadding(10.5));
  const ay = g.append('g').attr('transform', `translate(${x(7)},0)`)
    .call(d3.axisLeft(y).tickValues(p.yTicks).tickFormat(d => String(d))
      .tickSizeInner(-5).tickSizeOuter(0).tickPadding(7));
  [ax, ay].forEach(a => {
    a.attr('font-family', FONT).attr('font-size', 21);
    a.select('.domain').attr('stroke', '#333').attr('stroke-width', 1.1);
    a.selectAll('.tick line').attr('stroke', '#333');
    a.selectAll('.tick text').attr('fill', '#000');
  });

  // axis titles
  g.append('text').attr('x', (x(7) + x(9)) / 2).attr('y', p.bottom + 52)
    .attr('text-anchor', 'middle').attr('font-size', 21).attr('fill', '#000').text(xTitle);
  const yt = g.append('text')
    .attr('transform', `translate(33,${(p.top + p.bottom) / 2}) rotate(-90)`)
    .attr('text-anchor', 'middle').attr('font-size', 21).attr('fill', '#000');
  yt.append('tspan').text('Searched area, [km');
  yt.append('tspan').attr('dy', -9).attr('font-size', 14).text('2');
  yt.append('tspan').attr('dy', 9).text(']');

  // legend
  const lt = p.bottom - 70.3;
  const lg = g.append('g');
  lg.append('rect').attr('x', 564.5).attr('y', lt).attr('width', 199).attr('height', 59.5)
    .attr('fill', '#fff').attr('stroke', '#000').attr('stroke-width', 1.2);
  lg.append('circle').attr('cx', 609).attr('cy', lt + 20).attr('r', 2).attr('fill', '#0000ff');
  lg.append('circle').attr('cx', 609).attr('cy', lt + 44.5).attr('r', 2).attr('fill', '#ff0000');
  lg.append('text').attr('x', 644).attr('y', lt + 20 + 7.5).attr('font-size', 21).attr('fill', '#000').text(p.label);
  lg.append('text').attr('x', 644).attr('y', lt + 44.5 + 7.5).attr('font-size', 21).attr('fill', '#000').text(benchLabel);
});
</script>
</body></html>
